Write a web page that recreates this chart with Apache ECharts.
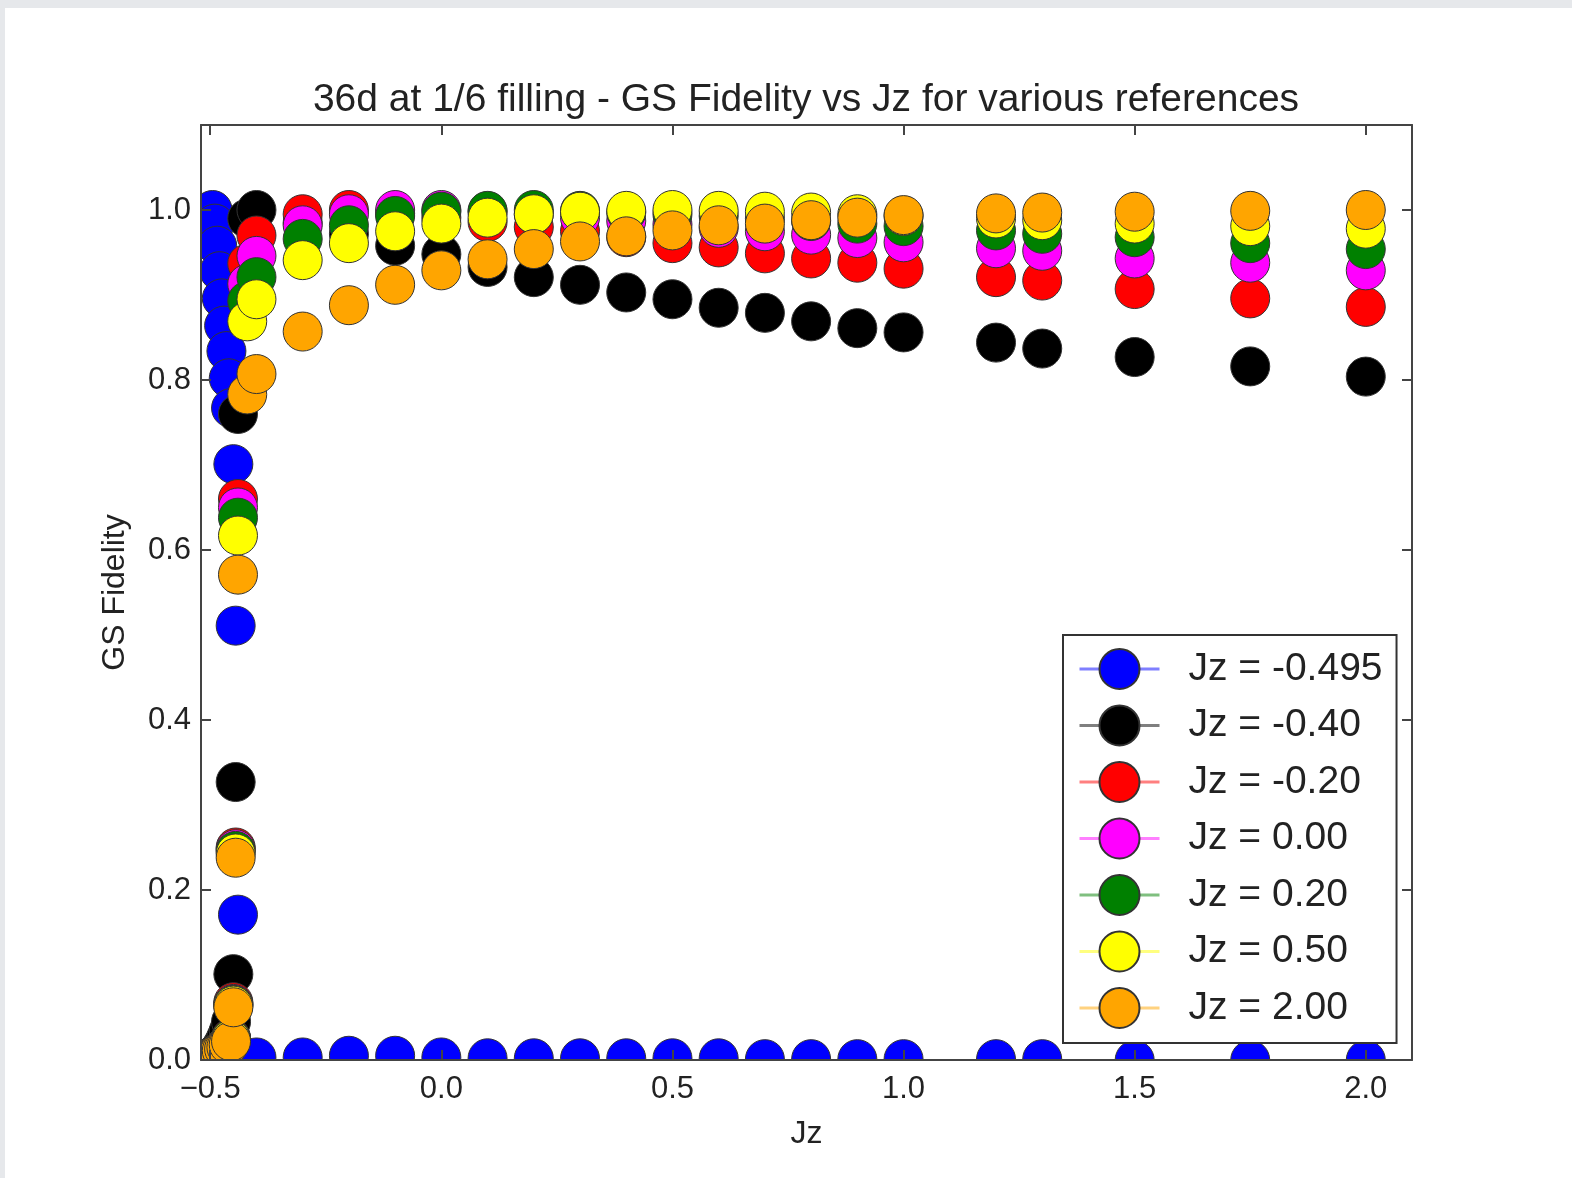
<!DOCTYPE html>
<html>
<head>
<meta charset="utf-8">
<script src="https://cdn.jsdelivr.net/npm/echarts@6/dist/echarts.min.js"></script>
<title>GS Fidelity vs Jz</title>
<style>
  html, body { margin: 0; padding: 0; width: 1572px; height: 1178px; background: #e6e8eb; overflow: hidden; }
  #main { position: absolute; left: 5px; top: 8px; width: 1567px; height: 1170px; background: #fff; }
</style>
</head>
<body>
<div id="main"></div>
<script>
// Jz values (x) shared by every reference series
var xs = [-0.5, -0.495, -0.49, -0.485, -0.48, -0.475, -0.47, -0.465, -0.46, -0.455,
          -0.45, -0.445, -0.44, -0.42, -0.4, -0.3, -0.2, -0.1,
          0.0, 0.1, 0.2, 0.3, 0.4, 0.5, 0.6, 0.7, 0.8, 0.9, 1.0,
          1.2, 1.3, 1.5, 1.75, 2.0];

// fidelity per reference state
var fBlue = [0.99, 1.0, 0.984, 0.958, 0.928, 0.896, 0.864, 0.834, 0.802, 0.767,
             0.701, 0.511, 0.171, 0.002, 0.003, 0.003, 0.005, 0.005,
             0.003, 0.002, 0.002, 0.002, 0.002, 0.002, 0.002, 0.001, 0.001, 0.001, 0.001,
             0.001, 0.001, 0.0, 0.0, 0.0];
var fBlack = [0.0, 0.003, 0.006, 0.009, 0.012, 0.016, 0.021, 0.027, 0.034, 0.045,
              0.101, 0.327, 0.76, 0.99, 1.0, 0.985, 0.972, 0.958,
              0.948, 0.933, 0.921, 0.912, 0.903, 0.895, 0.885, 0.879, 0.869, 0.861, 0.856,
              0.844, 0.837, 0.827, 0.816, 0.804];
var fRed = [0.001, 0.002, 0.004, 0.006, 0.008, 0.011, 0.014, 0.017, 0.021, 0.026,
            0.068, 0.25, 0.66, 0.937, 0.97, 0.995, 1.0, 0.996,
            0.991, 0.986, 0.98, 0.975, 0.968, 0.961, 0.956, 0.949, 0.943, 0.938, 0.931,
            0.921, 0.917, 0.907, 0.896, 0.886];
var fMagenta = [0.001, 0.002, 0.004, 0.006, 0.008, 0.011, 0.014, 0.017, 0.02, 0.025,
                0.066, 0.248, 0.65, 0.913, 0.946, 0.982, 0.995, 1.0,
                1.0, 0.998, 0.995, 0.991, 0.987, 0.983, 0.979, 0.975, 0.971, 0.967, 0.962,
                0.955, 0.952, 0.943, 0.938, 0.929];
var fGreen = [0.001, 0.002, 0.004, 0.006, 0.008, 0.011, 0.014, 0.017, 0.02, 0.025,
              0.065, 0.246, 0.638, 0.893, 0.921, 0.966, 0.982, 0.993,
              0.998, 0.999, 1.0, 0.999, 0.997, 0.995, 0.993, 0.99, 0.987, 0.984, 0.981,
              0.976, 0.972, 0.968, 0.961, 0.954];
var fYellow = [0.001, 0.002, 0.004, 0.006, 0.008, 0.011, 0.013, 0.016, 0.019, 0.024,
               0.064, 0.243, 0.617, 0.869, 0.895, 0.941, 0.961, 0.975,
               0.984, 0.991, 0.995, 0.998, 0.999, 1.0, 0.999, 0.998, 0.997, 0.995, 0.993,
               0.99, 0.988, 0.984, 0.981, 0.978];
var fOrange = [0.002, 0.003, 0.005, 0.007, 0.009, 0.011, 0.013, 0.015, 0.018, 0.022,
               0.062, 0.238, 0.571, 0.783, 0.807, 0.857, 0.888, 0.912,
               0.929, 0.942, 0.954, 0.963, 0.969, 0.976, 0.982, 0.984, 0.988, 0.991, 0.994,
               0.996, 0.997, 0.998, 0.999, 1.0];

var names = ['Jz = -0.495', 'Jz = -0.40', 'Jz = -0.20', 'Jz = 0.00', 'Jz = 0.20', 'Jz = 0.50', 'Jz = 2.00'];
var colors = ['#0000ff', '#000000', '#ff0000', '#ff00ff', '#008000', '#ffff00', '#ffa500'];
var values = [fBlue, fBlack, fRed, fMagenta, fGreen, fYellow, fOrange];

var xTicks = [-0.5, 0, 0.5, 1, 1.5, 2];
var yTicks = [0, 0.2, 0.4, 0.6, 0.8, 1.0];

var font = 'Liberation Sans, Arial, sans-serif';
var ink = '#222';

var myChart = echarts.init(document.getElementById('main'));

function fmt(v) {
    return v.toFixed(1).replace('-', '\u2212');
}

var series = values.map(function (ys, k) {
    return {
        name: names[k],
        type: 'line',
        data: xs.map(function (x, i) { return [x, ys[i]]; }),
        symbol: 'circle',
        symbolSize: 39,
        showSymbol: true,
        showAllSymbol: true,
        lineStyle: { width: 0, color: colors[k] },
        itemStyle: { color: colors[k], borderColor: '#333', borderWidth: 1 },
        emphasis: { disabled: true },
        z: 2
    };
});

// plain axis pieces shared by the four sides
function axisBase(extra) {
    return Object.assign({
        type: 'value',
        z: 5,
        splitLine: { show: false },
        axisLine: { show: true, onZero: false, lineStyle: { color: '#444', width: 2 } }
    }, extra);
}

function ticks(vals) {
    return { show: true, inside: true, length: 10, customValues: vals, lineStyle: { color: '#444', width: 2 } };
}

var option = {
    animation: false,
    title: {
        text: '36d at 1/6 filling - GS Fidelity vs Jz for various references',
        left: 801,
        textAlign: 'center',
        top: 73,
        padding: 0,
        textStyle: { fontFamily: font, fontSize: 39, fontWeight: 'normal', color: ink }
    },
    grid: { left: 196, top: 117, width: 1211, height: 935 },
    legend: {
        orient: 'vertical',
        left: 1058,
        top: 627,
        padding: [13, 14, 14, 15],
        itemWidth: 80,
        itemHeight: 50,
        itemGap: 14.5,
        backgroundColor: '#fff',
        borderColor: '#333',
        borderWidth: 2,
        lineStyle: { width: 3, opacity: 0.5 },
        textStyle: { fontFamily: font, fontSize: 39, color: ink, padding: [0, 0, 0, 24] },
        data: names
    },
    xAxis: [
        axisBase({
            position: 'bottom',
            min: -0.52, max: 2.1,
            name: 'Jz',
            nameLocation: 'middle',
            nameGap: 58,
            nameTextStyle: { fontFamily: font, fontSize: 32, color: ink },
            axisTick: ticks(xTicks),
            axisLabel: { customValues: xTicks, formatter: fmt, margin: 14, fontFamily: font, fontSize: 31, color: ink }
        }),
        axisBase({
            position: 'top',
            min: -0.52, max: 2.1,
            axisTick: ticks(xTicks),
            axisLabel: { show: false }
        })
    ],
    yAxis: [
        axisBase({
            position: 'left',
            min: 0, max: 1.1,
            name: 'GS Fidelity',
            nameLocation: 'middle',
            nameGap: 70,
            nameTextStyle: { fontFamily: font, fontSize: 32, color: ink },
            axisTick: ticks(yTicks),
            axisLabel: { customValues: yTicks, formatter: fmt, margin: 10, fontFamily: font, fontSize: 31, color: ink }
        }),
        axisBase({
            position: 'right',
            min: 0, max: 1.1,
            axisTick: ticks(yTicks),
            axisLabel: { show: false }
        })
    ],
    // white strips round the plot so markers are clipped at the frame
    graphic: [
        { type: 'rect', z: 3, silent: true, shape: { x: 0, y: 0, width: 196, height: 1170 }, style: { fill: '#fff' } },
        { type: 'rect', z: 3, silent: true, shape: { x: 0, y: 1052, width: 1567, height: 118 }, style: { fill: '#fff' } },
        { type: 'rect', z: 3, silent: true, shape: { x: 0, y: 0, width: 1567, height: 117 }, style: { fill: '#fff' } },
        { type: 'rect', z: 3, silent: true, shape: { x: 1407, y: 0, width: 160, height: 1170 }, style: { fill: '#fff' } }
    ],
    series: series
};

myChart.setOption(option);
</script>
</body>
</html>
